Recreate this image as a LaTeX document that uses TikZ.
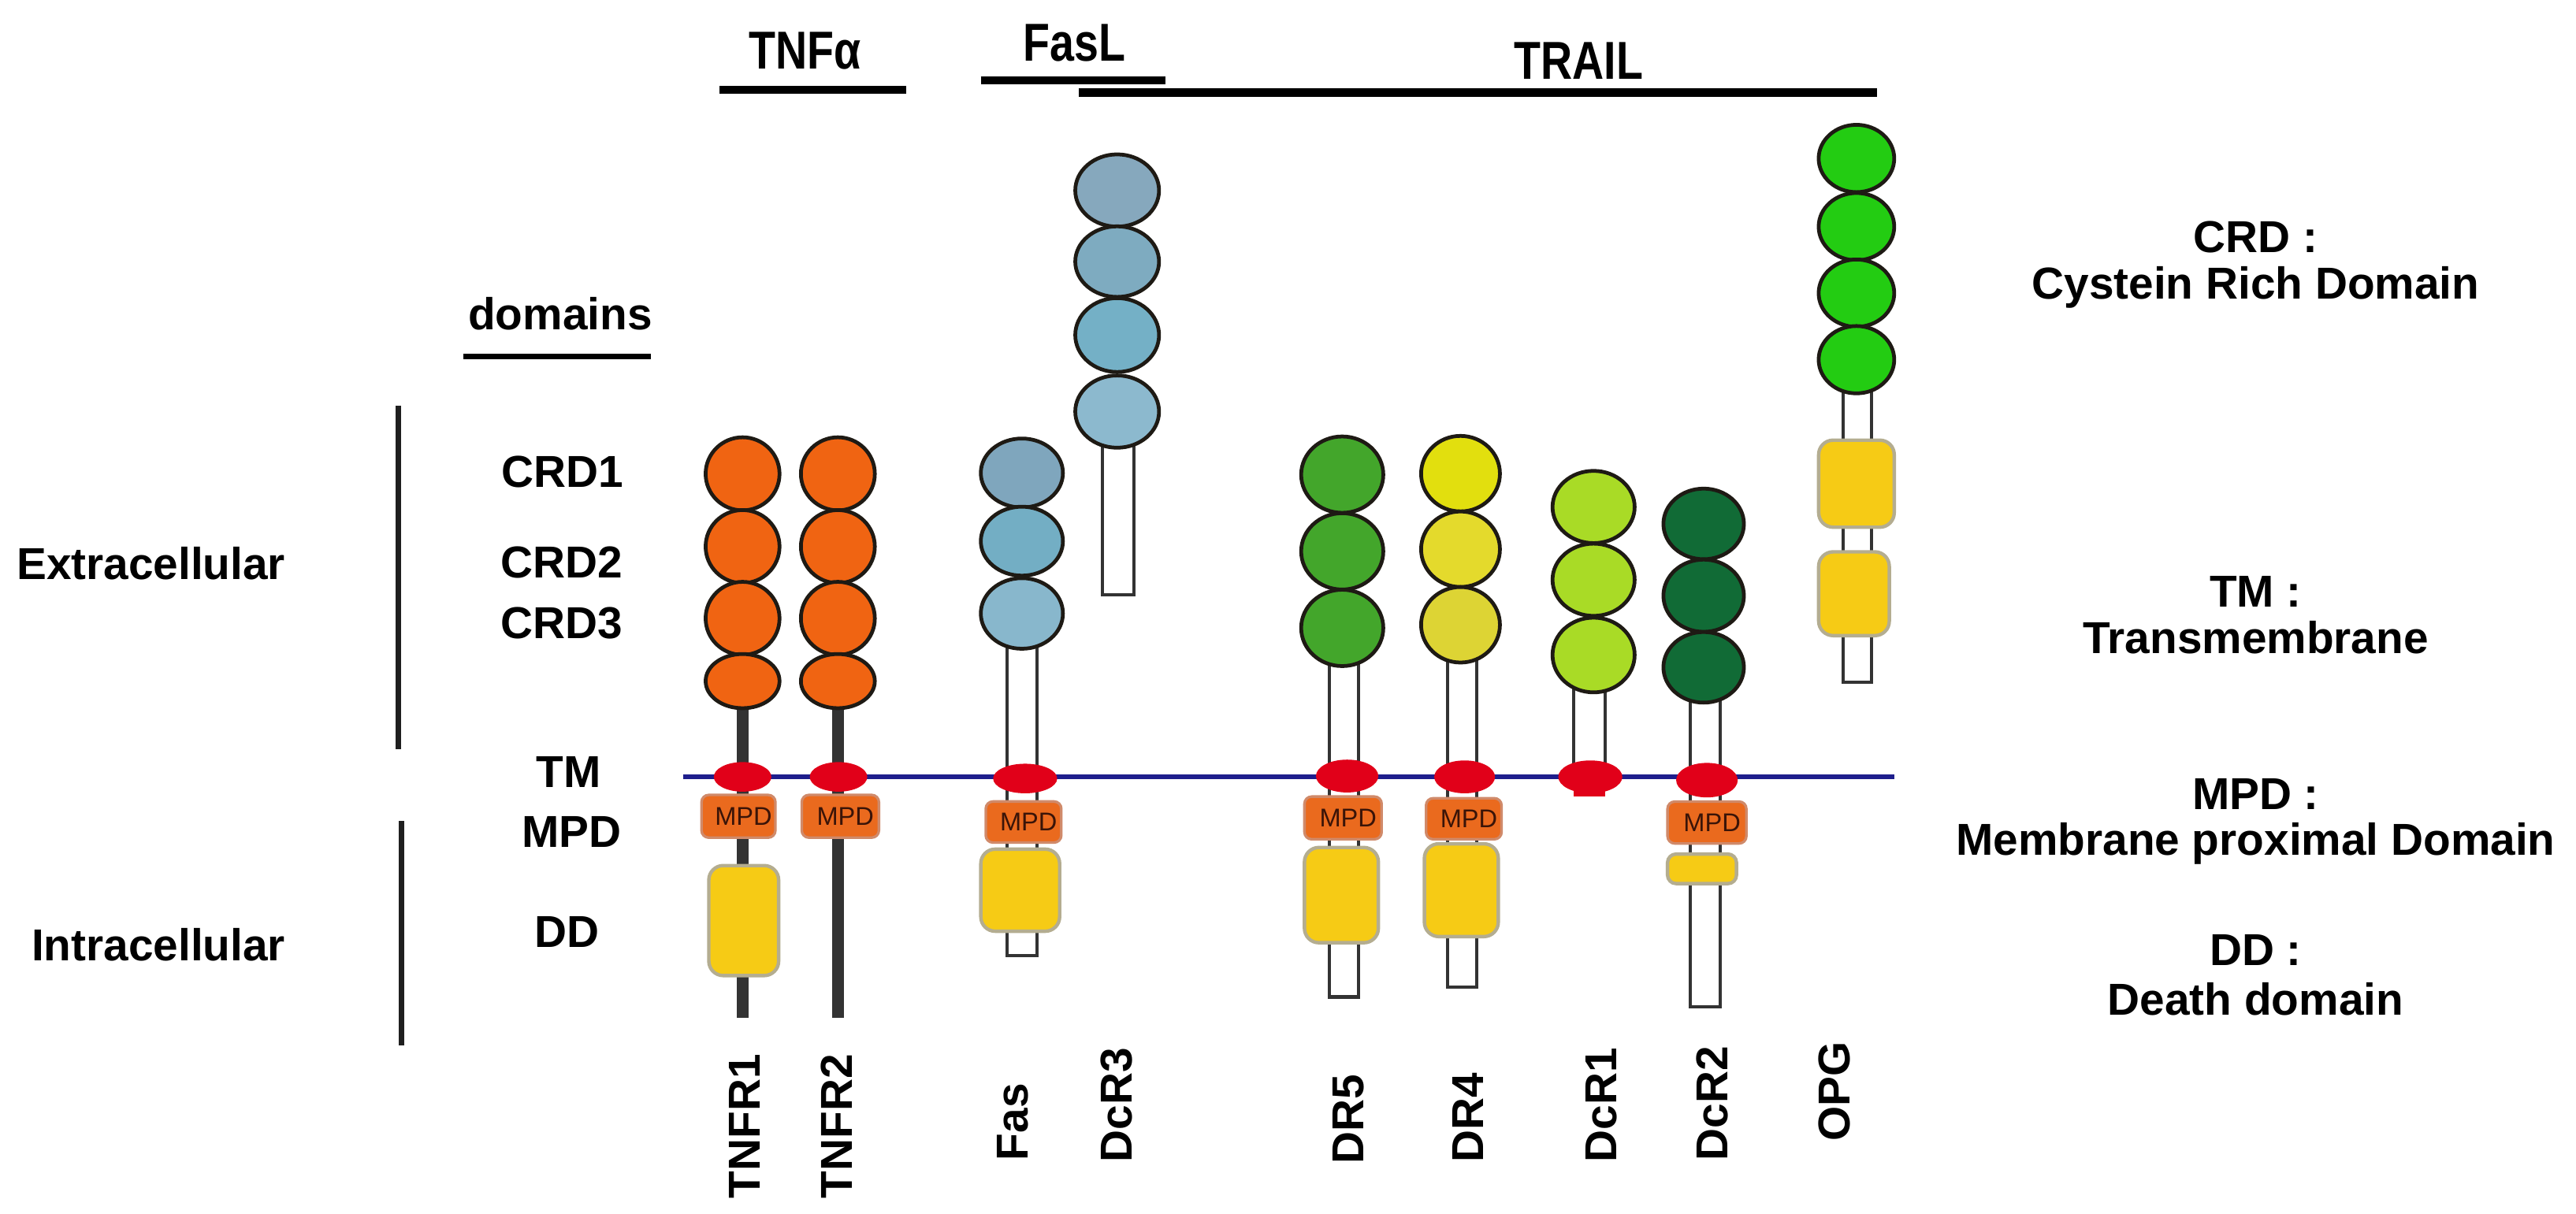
\documentclass[tikz,border=0pt]{standalone}
\usepackage{fontspec}
\setmainfont{Liberation Sans}
\usetikzlibrary{shapes.geometric}
\definecolor{tnfo}{HTML}{F06412}
\definecolor{crdline}{HTML}{1E1A14}
\definecolor{fasa}{HTML}{7FA6BD}
\definecolor{fasb}{HTML}{73AEC4}
\definecolor{fasc}{HTML}{88B7CC}
\definecolor{dcrta}{HTML}{86A8BD}
\definecolor{dcrtb}{HTML}{7EABC0}
\definecolor{dcrtc}{HTML}{74B0C6}
\definecolor{dcrtd}{HTML}{8CB9CE}
\definecolor{drfive}{HTML}{43A62B}
\definecolor{drfoura}{HTML}{E2DF0E}
\definecolor{drfourb}{HTML}{E4DA2C}
\definecolor{drfourc}{HTML}{DDD434}
\definecolor{dcrone}{HTML}{A9DB26}
\definecolor{dcrtwo}{HTML}{116B36}
\definecolor{opg}{HTML}{23CC12}
\definecolor{tmred}{HTML}{E10019}
\definecolor{mpdor}{HTML}{EA6A1E}
\definecolor{mpdedge}{HTML}{D08A6A}
\definecolor{mpdtext}{HTML}{3A1408}
\definecolor{ddyel}{HTML}{F6CB15}
\definecolor{ddedge}{HTML}{B4AD90}
\definecolor{shaftline}{HTML}{333333}
\definecolor{memblue}{HTML}{1E1E8C}
\begin{document}
\begin{tikzpicture}[x=0.02cm,y=-0.02cm,
  crd/.style={ellipse, draw=crdline, line width=1.3pt, inner sep=0pt, outer sep=0pt},
  tmnode/.style={ellipse, fill=tmred, inner sep=0pt, minimum width=0.76cm, minimum height=0.38cm},
  mpdbox/.style={rectangle, rounded corners=2.5pt, fill=mpdor, draw=mpdedge, line width=0.9pt, inner sep=0pt, font=\fontsize{8.9}{10}\selectfont, text=mpdtext},
  ddbox/.style={rectangle, rounded corners=5pt, fill=ddyel, draw=ddedge, line width=1.2pt, inner sep=0pt},
  shaft/.style={draw=shaftline, fill=white, line width=1.1pt},
  stalk/.style={draw=shaftline, line width=4pt},
  lbl/.style={font=\bfseries\fontsize{15.5}{18}\selectfont, inner sep=0pt, anchor=base},
  vlbl/.style={font=\bfseries\fontsize{15.5}{18}\selectfont, inner sep=0pt, rotate=90, anchor=base west},
  hdr/.style={font=\bfseries\fontsize{18.5}{21}\selectfont, inner sep=0pt, anchor=base},
  hline/.style={line width=2.8pt, draw=black},
  bar/.style={line width=2pt, draw=black!88}
]
\fill[white] (0,0) rectangle (1568,739);
\useasboundingbox (0,0) rectangle (1568,739);

% ---------- header ----------
\node[hdr] (tnfa) at (490,42) {\scalebox{0.82}[1]{TNFα}};
\node[hdr] (fasl) at (654,37) {\scalebox{0.82}[1]{FasL}};
\node[hdr] (trail) at (961,48) {\scalebox{0.82}[1]{TRAIL}};
\coordinate (tnfaL) at (438,54.6); \coordinate (tnfaR) at (551.6,54.6);
\coordinate (faslL) at (597,49); \coordinate (faslR) at (709.4,49);
\coordinate (trailL) at (656.6,56.3); \coordinate (trailR) at (1142.5,56.3);
\draw[hline] (tnfaL) -- (tnfaR);
\draw[hline] (faslL) -- (faslR);
\draw[hline, line width=3.2pt] (trailL) -- (trailR);

% ---------- left labels ----------
\node[lbl] (domains) at (341,200.8) {domains};
\coordinate (domL) at (282,217); \coordinate (domR) at (396,217);
\draw[line width=1.7pt] (domL) -- (domR);
\coordinate (b1t) at (242.6,247); \coordinate (b1b) at (242.6,456);
\coordinate (b2t) at (244.4,500); \coordinate (b2b) at (244.4,636.6);
\draw[bar] (b1t) -- (b1b);
\draw[bar] (b2t) -- (b2b);
\node[lbl, anchor=base east] (extra) at (174,352.8) {Extracellular};
\node[lbl, anchor=base east] (intra) at (174,584.8) {Intracellular};
\node[lbl] (lcrd1) at (342.6,296.8) {CRD1};
\node[lbl] (lcrd2) at (342,351.8) {CRD2};
\node[lbl] (lcrd3) at (342,388.8) {CRD3};
\node[lbl] (ltm) at (346,479.3) {TM};
\node[lbl] (lmpd) at (348,515.8) {MPD};
\node[lbl] (ldd) at (345,576.8) {DD};

% ---------- right legend ----------
\node[lbl] (rcrd) at (1373,153.8) {CRD :};
\node[lbl] (rcrdt) at (1373,181.8) {Cystein Rich Domain};
\node[lbl] (rtm) at (1373,369.8) {TM :};
\node[lbl] (rtmt) at (1373,397.8) {Transmembrane};
\node[lbl] (rmpd) at (1373,492.8) {MPD :};
\node[lbl] (rmpdt) at (1373,520.8) {Membrane proximal Domain};
\node[lbl] (rdd) at (1373,587.8) {DD :};
\node[lbl] (rddt) at (1373,617.8) {Death domain};

% ---------- stalks / shafts ----------
\draw[stalk] (452,414) -- (452,619.5);
\draw[stalk] (510,414) -- (510,619.5);
\draw[shaft] (613,392) rectangle (631,582);
\draw[shaft] (671,265) rectangle (690,362);
\draw[shaft] (809,400) rectangle (827,607);
\draw[shaft] (881,400) rectangle (899,601);
\draw[shaft] (958,418) rectangle (977,480);
\draw[shaft] (1029,425) rectangle (1047,613);
\draw[shaft] (1122,236) rectangle (1139,415.5);

% ---------- membrane ----------
\coordinate (memL) at (416,473); \coordinate (memR) at (1153,473);
\draw[memblue, line width=1.7pt] (memL) -- (memR);

% ---------- TNFR1 ----------
\node[crd, fill=tnfo, minimum width=0.9cm, minimum height=0.89cm] (t1a) at (452,288.5) {};
\node[crd, fill=tnfo, minimum width=0.9cm, minimum height=0.89cm] (t1b) at (452,332.8) {};
\node[crd, fill=tnfo, minimum width=0.9cm, minimum height=0.89cm] (t1c) at (452,376.5) {};
\node[crd, fill=tnfo, minimum width=0.9cm, minimum height=0.66cm] (t1d) at (452,414.7) {};
\node[tmnode, minimum width=0.7cm, minimum height=0.36cm] (t1tm) at (452,473) {};
\node[mpdbox, minimum width=0.9cm, minimum height=0.52cm] (t1mpd) at (449.5,497) {\hspace*{3.5pt}MPD};
\node[ddbox, minimum width=0.85cm, minimum height=1.34cm] (t1dd) at (452.7,560.5) {};

% ---------- TNFR2 ----------
\node[crd, fill=tnfo, minimum width=0.9cm, minimum height=0.89cm] (t2a) at (510,288.5) {};
\node[crd, fill=tnfo, minimum width=0.9cm, minimum height=0.89cm] (t2b) at (510,332.8) {};
\node[crd, fill=tnfo, minimum width=0.9cm, minimum height=0.89cm] (t2c) at (510,376.5) {};
\node[crd, fill=tnfo, minimum width=0.9cm, minimum height=0.66cm] (t2d) at (510,414.7) {};
\node[tmnode, minimum width=0.7cm, minimum height=0.36cm] (t2tm) at (510.4,473) {};
\node[mpdbox, minimum width=0.94cm, minimum height=0.52cm] (t2mpd) at (511.5,497) {\hspace*{3.5pt}MPD};

% ---------- Fas ----------
\node[crd, fill=fasa, minimum width=1.0cm, minimum height=0.84cm] (fa) at (622,288) {};
\node[crd, fill=fasb, minimum width=1.0cm, minimum height=0.84cm] (fb) at (622,329.5) {};
\node[crd, fill=fasc, minimum width=1.0cm, minimum height=0.86cm] (fc) at (622,373.5) {};
\node[tmnode, minimum width=0.78cm, minimum height=0.36cm] (ftm) at (624,474) {};
\node[mpdbox, minimum width=0.92cm, minimum height=0.5cm] (fmpd) at (623,500.5) {\hspace*{3.5pt}MPD};
\node[ddbox, minimum width=0.96cm, minimum height=1.0cm] (fdd) at (621,542) {};

% ---------- DcR3 ----------
\node[crd, fill=dcrta, minimum width=1.02cm, minimum height=0.88cm] (d3a) at (680,116) {};
\node[crd, fill=dcrtb, minimum width=1.02cm, minimum height=0.86cm] (d3b) at (680,159.3) {};
\node[crd, fill=dcrtc, minimum width=1.02cm, minimum height=0.9cm] (d3c) at (680,204) {};
\node[crd, fill=dcrtd, minimum width=1.02cm, minimum height=0.88cm] (d3d) at (680,250.6) {};

% ---------- DR5 ----------
\node[crd, fill=drfive, minimum width=1.0cm, minimum height=0.93cm] (d5a) at (817,289) {};
\node[crd, fill=drfive, minimum width=1.0cm, minimum height=0.93cm] (d5b) at (817,335.7) {};
\node[crd, fill=drfive, minimum width=1.0cm, minimum height=0.93cm] (d5c) at (817,382.3) {};
\node[tmnode, minimum width=0.76cm, minimum height=0.4cm] (d5tm) at (820,472.5) {};
\node[mpdbox, minimum width=0.94cm, minimum height=0.52cm] (d5mpd) at (817.5,498) {\hspace*{3.5pt}MPD};
\node[ddbox, minimum width=0.9cm, minimum height=1.16cm] (d5dd) at (816.5,545) {};

% ---------- DR4 ----------
\node[crd, fill=drfoura, minimum width=0.96cm, minimum height=0.92cm] (d4a) at (889,288.4) {};
\node[crd, fill=drfourb, minimum width=0.96cm, minimum height=0.92cm] (d4b) at (889,334.4) {};
\node[crd, fill=drfourc, minimum width=0.96cm, minimum height=0.92cm] (d4c) at (889,380.4) {};
\node[tmnode, minimum width=0.74cm, minimum height=0.4cm] (d4tm) at (891.5,473) {};
\node[mpdbox, minimum width=0.92cm, minimum height=0.5cm] (d4mpd) at (891,498.5) {\hspace*{3.5pt}MPD};
\node[ddbox, minimum width=0.9cm, minimum height=1.13cm] (d4dd) at (889.5,542) {};

% ---------- DcR1 ----------
\node[crd, fill=dcrone, minimum width=1.0cm, minimum height=0.88cm] (d1a) at (970,308.7) {};
\node[crd, fill=dcrone, minimum width=1.0cm, minimum height=0.88cm] (d1b) at (970,353) {};
\node[crd, fill=dcrone, minimum width=1.0cm, minimum height=0.91cm] (d1c) at (970,398.8) {};
\fill[tmred] (958,474) rectangle (977,485);
\node[tmnode, minimum width=0.78cm, minimum height=0.4cm] (d1tm) at (968,473) {};

% ---------- DcR2 ----------
\node[crd, fill=dcrtwo, minimum width=0.98cm, minimum height=0.86cm] (d2a) at (1037,319) {};
\node[crd, fill=dcrtwo, minimum width=0.98cm, minimum height=0.88cm] (d2b) at (1037,362.7) {};
\node[crd, fill=dcrtwo, minimum width=0.98cm, minimum height=0.86cm] (d2c) at (1037,406.3) {};
\node[tmnode, minimum width=0.75cm, minimum height=0.42cm] (d2tm) at (1039,475) {};
\node[mpdbox, minimum width=0.96cm, minimum height=0.51cm] (d2mpd) at (1039,500.8) {\hspace*{3.5pt}MPD};
\node[ddbox, rounded corners=3pt, minimum width=0.84cm, minimum height=0.36cm] (d2dd) at (1036,529) {};

% ---------- OPG ----------
\node[crd, fill=opg, minimum width=0.92cm, minimum height=0.82cm] (oa) at (1130,96.5) {};
\node[crd, fill=opg, minimum width=0.92cm, minimum height=0.82cm] (ob) at (1130,138) {};
\node[crd, fill=opg, minimum width=0.92cm, minimum height=0.82cm] (oc) at (1130,178.5) {};
\node[crd, fill=opg, minimum width=0.92cm, minimum height=0.82cm] (od) at (1130,219) {};
\node[ddbox, minimum width=0.92cm, minimum height=1.06cm] (odd1) at (1130,294.5) {};
\node[ddbox, minimum width=0.86cm, minimum height=1.02cm] (odd2) at (1128.5,361.5) {};

% ---------- bottom labels ----------
\node[vlbl] (n1) at (462.8,730) {TNFR1};
\node[vlbl] (n2) at (518.8,730) {TNFR2};
\node[vlbl] (n3) at (625.8,707) {Fas};
\node[vlbl] (n4) at (688.8,708) {DcR3};
\node[vlbl] (n5) at (829.8,709) {DR5};
\node[vlbl] (n6) at (902.8,708) {DR4};
\node[vlbl] (n7) at (983.8,708) {DcR1};
\node[vlbl] (n8) at (1051.8,707) {DcR2};
\node[vlbl] (n9) at (1125.8,695) {OPG};
\end{tikzpicture}
\end{document}
